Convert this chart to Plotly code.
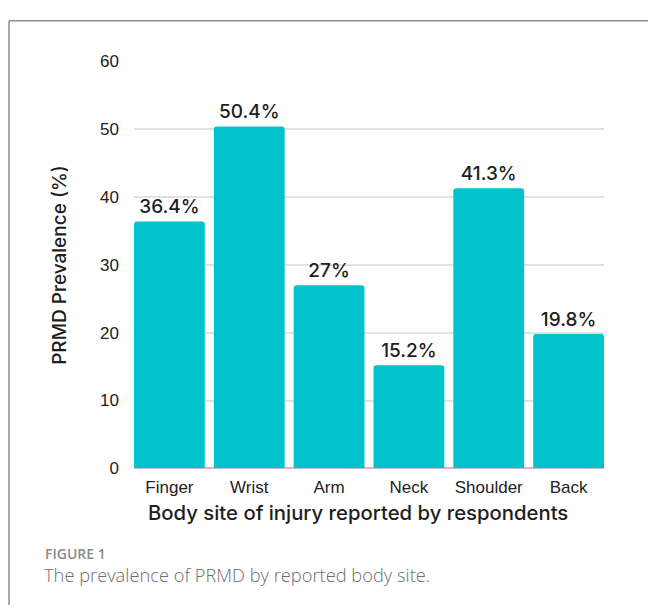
import plotly.graph_objects as go

categories = ["Finger", "Wrist", "Arm", "Neck", "Shoulder", "Back"]
prevalence = [36.4, 50.4, 27, 15.2, 41.3, 19.8]
y_ticks = [0, 10, 20, 30, 40, 50, 60]

W, H = 648, 615
def px(x):
    return x / W
def py(y):
    return 1 - y / H

labels = [f"{v:g}%" for v in prevalence]

fig = go.Figure()
fig.add_trace(go.Bar(
    x=categories, y=prevalence,
    marker=dict(color="#00C3CB", line=dict(width=0)),
    text=labels, textposition="outside",
    outsidetextfont=dict(family="Inter", size=19, color="#1e1e1e", weight=500),
    cliponaxis=False,
))

g = 0.113
fig.update_layout(
    width=W, height=H,
    margin=dict(l=0, r=0, t=0, b=0),
    paper_bgcolor="white", plot_bgcolor="white",
    showlegend=False,
    bargap=g,
    barcornerradius=3,
    xaxis=dict(
        domain=[px(134), px(604)],
        range=[-0.5 + g / 2, 5.5 - g / 2],
        showgrid=False, zeroline=False, showline=False,
        ticks="", ticklabelstandoff=7,
        tickfont=dict(family="Liberation Sans", size=17, color="#222"),
    ),
    yaxis=dict(
        domain=[py(474), py(54)],
        range=[0, 60],
        tickvals=y_ticks,
        showgrid=True, gridcolor="#e2e2e2", gridwidth=1.5,
        zeroline=True, zerolinecolor="#c4c4c4", zerolinewidth=1.5,
        showline=False, ticks="", ticklabelstandoff=14,
        tickfont=dict(family="Liberation Sans", size=17, color="#222"),
    ),
    shapes=[
        dict(type="line", xref="paper", yref="paper", x0=px(9), x1=1, y0=py(12), y1=py(12),
             line=dict(color="#8c8c8c", width=1.5)),
        dict(type="line", xref="paper", yref="paper", x0=px(9), x1=px(9), y0=py(12), y1=0,
             line=dict(color="#8c8c8c", width=1.5)),
    ],
    annotations=[
        dict(text="PRMD Prevalence (%)", x=px(60), y=py(264), xref="paper", yref="paper",
             textangle=-90, showarrow=False, xanchor="center", yanchor="middle",
             font=dict(family="Inter", size=19, color="#1e1e1e", weight=500)),
        dict(text="Body site of injury reported by respondents", x=px(358), y=py(520),
             xref="paper", yref="paper", showarrow=False, xanchor="center", yanchor="middle",
             font=dict(family="Inter", size=20.3, color="#1e1e1e", weight=500)),
        dict(text="FIGURE 1", x=px(43), y=py(562), xref="paper", yref="paper",
             showarrow=False, xanchor="left", yanchor="middle",
             font=dict(family="Open Sans", size=14, color="#8a8a8a", weight=600)),
        dict(text="The prevalence of PRMD by reported body site.", x=px(42), y=py(584),
             xref="paper", yref="paper", showarrow=False, xanchor="left", yanchor="middle",
             font=dict(family="Open Sans", size=18.3, color="#6e6e6e", weight=300)),
    ],
)

fig.write_html("out.html")
